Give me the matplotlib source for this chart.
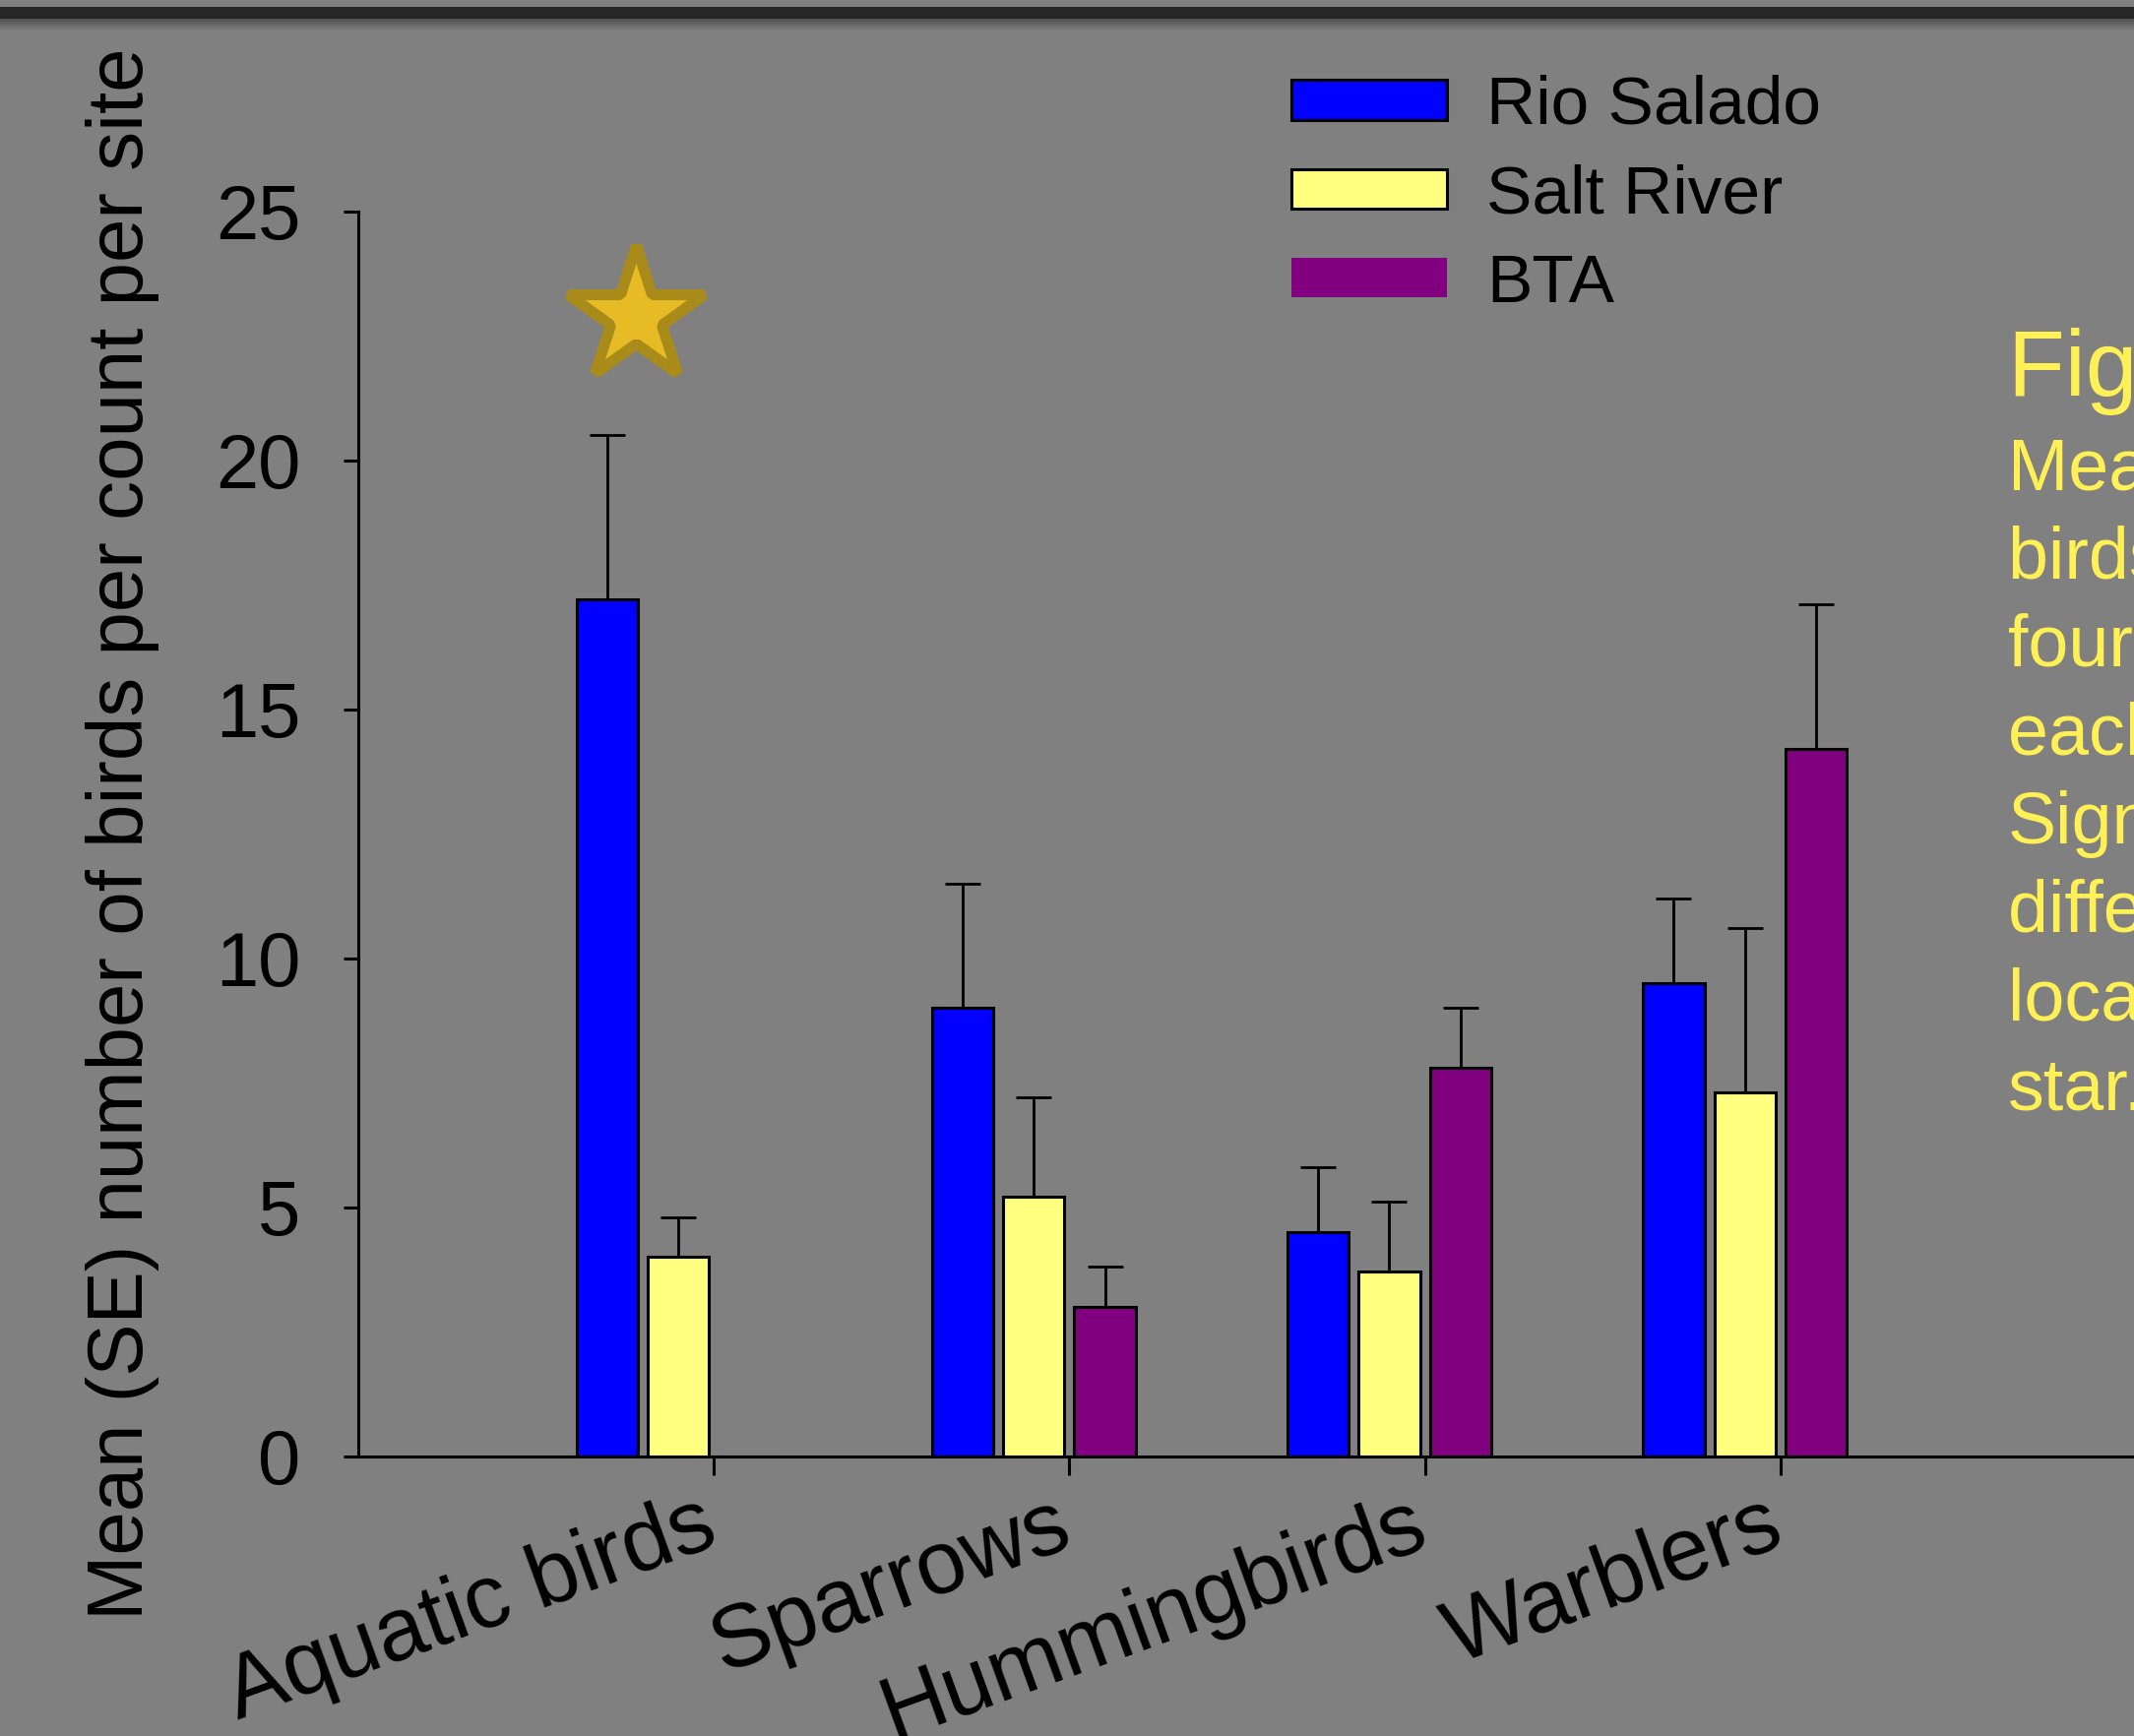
import matplotlib.pyplot as plt
from matplotlib.patches import Patch, Rectangle
from matplotlib.transforms import ScaledTranslation
import numpy as np

plt.rcParams['font.family'] = ['Liberation Sans', 'DejaVu Sans']

groups = ["Aquatic birds", "Sparrows", "Hummingbirds", "Warblers"]
sites = ["Rio Salado", "Salt River", "BTA"]
rio_salado = [17.2, 9.0, 4.5, 9.5]
salt_river = [4.0, 5.2, 3.7, 7.3]
bta = [0.0, 3.0, 7.8, 14.2]
rio_salado_se = [3.3, 2.5, 1.3, 1.7]
salt_river_se = [0.8, 2.0, 1.4, 3.3]
bta_se = [0.0, 0.8, 1.2, 2.9]
# significant difference marker over aquatic birds
star_x, star_y = -0.22, 22.9

caption_title = "Figure 1"
caption_lines = ["Mean number of", "birds in the", "four groups at", "each site.",
                 "Significant", "differences in", "location by", "star."]

bg = '#808080'
colors = ['#0000FF', '#FFFF80', '#800080']

W, H = 2168, 1764
fig = plt.figure(figsize=(W / 100, H / 100), dpi=100, facecolor=bg)
ax = fig.add_axes([364 / W, (H - 1479.5) / H, 1806 / W, 1265 / H])
ax.set_facecolor(bg)

x = np.arange(len(groups))
width = 0.172
offsets = [-0.3, -0.1, 0.1]
series = [rio_salado, salt_river, bta]
errs = [rio_salado_se, salt_river_se, bta_se]
for vals, se, off, c in zip(series, errs, offsets, colors):
    ax.bar(x + off, vals, width, color=c, edgecolor='black', linewidth=2.2, zorder=2)
    ax.errorbar(x + off, vals, yerr=[np.zeros(len(se)), se], fmt='none',
                ecolor='black', elinewidth=2.0, capsize=13, capthick=2.0, zorder=3)

ax.plot(star_x, star_y, marker='*', ms=104, mfc='#E6BB26', mec='#A98B1A', mew=8,
        clip_on=False, zorder=4)

ax.set_xlim(-1, 4)
ax.set_ylim(0, 25)
ax.set_yticks([0, 5, 10, 15, 20, 25])
ax.set_xticks(x)
ax.set_xticklabels([])
# rotated group names, drawn as text so they can be nudged under the ticks
lab_tr = ax.get_xaxis_transform() + ScaledTranslation(-0.16, -0.27, fig.dpi_scale_trans)
for xi, name in zip(x, groups):
    ax.text(xi, 0, name, transform=lab_tr, rotation=20, ha='right', va='top',
            rotation_mode='anchor', fontsize=65, clip_on=False)
ax.tick_params(axis='y', labelsize=56, length=11, width=2.2, pad=31, direction='out')
ax.tick_params(axis='x', length=14, width=2.2, direction='out')
for s in ['top', 'right']:
    ax.spines[s].set_visible(False)
for s in ['left', 'bottom']:
    ax.spines[s].set_linewidth(2.2)

ax.set_ylabel("Mean (SE) number of birds per count per site", fontsize=57.5)
ax.yaxis.set_label_coords(-0.112, 0.5)

handles = [Patch(facecolor=colors[0], edgecolor='black', linewidth=2.2),
           Patch(facecolor=colors[1], edgecolor='black', linewidth=2.2),
           Patch(facecolor=colors[2], edgecolor='none')]
ax.legend(handles, sites, loc='upper left', bbox_to_anchor=(1312 / W, 1 - 76 / H),
          bbox_transform=fig.transFigure, frameon=False, fontsize=50,
          handlelength=2.27, handleheight=0.52, handletextpad=0.58,
          labelspacing=0.38, borderpad=0, borderaxespad=0)

# caption on the right, runs off the edge
cap_color = '#FFF055'
fig.text(2040 / W, 1 - 402 / H, caption_title, color=cap_color, fontsize=68, va='baseline')
for i, line in enumerate(caption_lines):
    fig.text(2040 / W, 1 - (497 + i * 90) / H, line, color=cap_color, fontsize=53, va='baseline')

# dark bar along the top with a soft shadow
fig.patches.append(Rectangle((0, 1 - 19 / H), 1, 12 / H, transform=fig.transFigure,
                             facecolor='#262626', edgecolor='none'))
for k in range(12):
    fig.patches.append(Rectangle((0, 1 - (20 + k) / H), 1, 1 / H, transform=fig.transFigure,
                                 facecolor='black', alpha=0.35 * (1 - k / 12), edgecolor='none'))

fig.savefig('out.png', dpi=100, facecolor=bg)
